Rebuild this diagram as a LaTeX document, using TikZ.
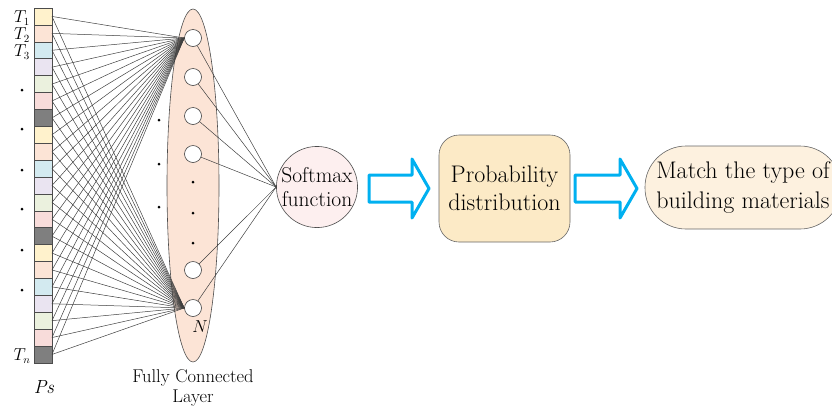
\documentclass[tikz,border=0pt]{standalone}
\usetikzlibrary{shapes.geometric}
\definecolor{cY}{HTML}{FFF2CC}
\definecolor{cP}{HTML}{FCE4D6}
\definecolor{cB}{HTML}{D3EAF0}
\definecolor{cL}{HTML}{EAE4F1}
\definecolor{cG}{HTML}{EBF1DE}
\definecolor{cR}{HTML}{F8DCDA}
\definecolor{cD}{HTML}{7F7F7F}
\definecolor{layerfill}{HTML}{FCE4D6}
\definecolor{smfill}{HTML}{FDEFEF}
\definecolor{probfill}{HTML}{FCEAC6}
\definecolor{matchfill}{HTML}{FDF1DF}
\definecolor{arrowblue}{HTML}{00B0F0}
\begin{document}
\begin{tikzpicture}[x=1pt,y=-1pt,
  cellbox/.style={draw=black!70, line width=0.6pt, minimum width=18pt, minimum height=16.9pt, inner sep=0pt, outer sep=0pt},
  neuron/.style={circle, draw=black!75, fill=white, minimum size=17pt, inner sep=0pt, line width=0.6pt},
  link/.style={draw=black!75, line width=0.5pt},
  dotm/.style={circle, fill=black, inner sep=0pt, minimum size=3pt},
  bigarrow/.style={draw=arrowblue, line width=3pt, line join=round, fill=white},
  tlbl/.style={inner sep=0pt, font=\fontsize{16}{18}\selectfont}]
\useasboundingbox (0,0) rectangle (832,408);
\clip (0,0) rectangle (832,408);
% layer ellipse
\node[ellipse, draw=black!70, fill=layerfill, line width=0.6pt, minimum width=52pt, minimum height=353pt, inner sep=0pt] (fc) at (193,185.5) {};
% input cells
\foreach \col [count=\i from 0] in {cY,cP,cB,cL,cG,cR,cD,cY,cP,cB,cL,cG,cR,cD,cY,cP,cB,cL,cG,cR,cD}
  \node[cellbox, fill=\col] (c\i) at (43, {16.45+16.9*\i}) {};
% neurons
\node[neuron] (n1) at (193,38) {};
\node[neuron] (n2) at (193,77) {};
\node[neuron] (n3) at (193,116) {};
\node[neuron] (n4) at (193,154) {};
\node[neuron] (n5) at (193,270) {};
\node[neuron] (n6) at (193,308) {};
% softmax
\node[circle, draw=black!70, fill=smfill, line width=0.6pt, minimum size=80pt, inner sep=0pt, align=center, font=\fontsize{21.5}{24}\selectfont] (sm) at (317,187) {Softmax\\function};
% links
\foreach \i in {0,...,20} {
  \draw[link] (c\i.east) -- (n1.west);
  \draw[link] (c\i.east) -- (n6.west);
}
\foreach \j in {1,...,6}
  \draw[link] (n\j) -- (sm.west);
% dots
\foreach \y [count=\k] in {90,129,170,209,250,290}
  \node[dotm] (ld\k) at (22,\y) {};
\node[dotm] (md1) at (159,120) {};
\node[dotm] (md2) at (159,164) {};
\node[dotm] (md3) at (159,207) {};
\node[dotm] (nd1) at (193,182) {};
\node[dotm] (nd2) at (193,213) {};
\node[dotm] (nd3) at (193,243) {};
% labels
\node[tlbl] (t1) at (22,18) {$T_1$};
\node[tlbl] (t2) at (22,35) {$T_2$};
\node[tlbl] (t3) at (22,52) {$T_3$};
\node[tlbl] (tn) at (22,356) {$T_n$};
\node[inner sep=0pt, font=\fontsize{19}{21}\selectfont] (ps) at (44,387) {\textit{Ps}};
\node[inner sep=0pt, font=\fontsize{16}{18}\selectfont] (nl) at (200,327) {$N$};
\node[inner sep=0pt, align=center, font=\fontsize{18.5}{20}\selectfont] (fcl) at (193,388) {Fully Connected\\Layer};
% probability box
\node[draw=black!60, fill=probfill, line width=0.6pt, rounded corners=20pt, minimum width=131pt, minimum height=107pt, inner sep=0pt, align=center, font=\fontsize{24}{28}\selectfont] (pd) at (504.5,188.5) {Probability\\distribution};
% match box
\node[draw=black!60, fill=matchfill, line width=0.6pt, rounded corners=41pt, minimum width=196pt, minimum height=83pt, inner sep=0pt, align=center, font=\fontsize{24}{30}\selectfont] (mt) at (743,187.5) {Match the type of\\building materials};
% big arrows
\draw[bigarrow] (369,175) -- (412,175) -- (412,159) -- (429,188.5) -- (412,218) -- (412,202) -- (369,202) -- cycle;
\draw[bigarrow] (575,175) -- (620,175) -- (620,159) -- (637,188.5) -- (620,218) -- (620,202) -- (575,202) -- cycle;
\end{tikzpicture}
\end{document}
